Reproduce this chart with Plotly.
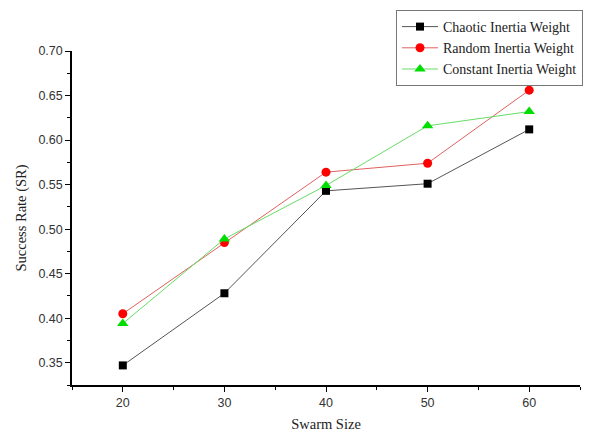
import plotly.graph_objects as go

swarm_size = [20, 30, 40, 50, 60]
chaotic = [0.347, 0.428, 0.543, 0.551, 0.612]
random_w = [0.405, 0.485, 0.564, 0.574, 0.656]
constant = [0.394, 0.489, 0.549, 0.616, 0.632]

series = [
    ("Chaotic Inertia Weight", chaotic, "#000000", "#555555", "square", 8),
    ("Random Inertia Weight", random_w, "#ff0000", "#e06060", "circle", 9),
    ("Constant Inertia Weight", constant, "#00dd00", "#66dd66", "triangle-up", 10),
]

fig = go.Figure()
for name, vals, mcol, lcol, sym, sz in series:
    fig.add_trace(go.Scatter(
        x=swarm_size, y=vals, name=name, mode="lines+markers",
        line=dict(color=lcol, width=1),
        marker=dict(symbol=sym, size=sz, color=mcol),
    ))

axis_common = dict(
    showline=True, linecolor="black", linewidth=1.5,
    ticks="outside", ticklen=5, tickwidth=1, tickcolor="black",
    showgrid=False, zeroline=False, mirror=False, automargin=False,
    tickfont=dict(family="Liberation Sans, Arial", size=12.5, color="#333333"),
)

title_font = dict(family="Liberation Serif, Times New Roman", size=14.5, color="#222222")

# page body has an 8px default margin; figure is sized to fill the rest
OFF = 8
W, H = 596 - OFF, 433 - OFF
L, R, T, B = 72 - OFF, 16, 51 - OFF, 48
pw, ph = W - L - R, H - T - B

fig.update_layout(
    width=W, height=H,
    margin=dict(l=L, r=R, t=T, b=B, autoexpand=False),
    paper_bgcolor="white", plot_bgcolor="white",
    xaxis=dict(
        range=[15, 65], dtick=10, tick0=0,
        minor=dict(ticks="outside", ticklen=3, dtick=5, tick0=0, tickcolor="black"),
        title=dict(text="Swarm Size", font=title_font, standoff=10),
        **axis_common,
    ),
    yaxis=dict(
        range=[0.325, 0.70], dtick=0.05, tick0=0, tickformat=".2f",
        minor=dict(ticks="outside", ticklen=3, dtick=0.025, tick0=0, tickcolor="black"),
        title=dict(text="Success Rate (SR)", font=title_font, standoff=8),
        **axis_common,
    ),
    legend=dict(
        x=(396 - 72) / pw, y=(385 - 10) / ph, xanchor="left", yanchor="top",
        bordercolor="#777777", borderwidth=1, bgcolor="white",
        font=dict(family="Liberation Serif, Times New Roman", size=14, color="#222222"),
        tracegroupgap=0, itemwidth=36,
    ),
    showlegend=True,
)

fig.write_html("out.html")
